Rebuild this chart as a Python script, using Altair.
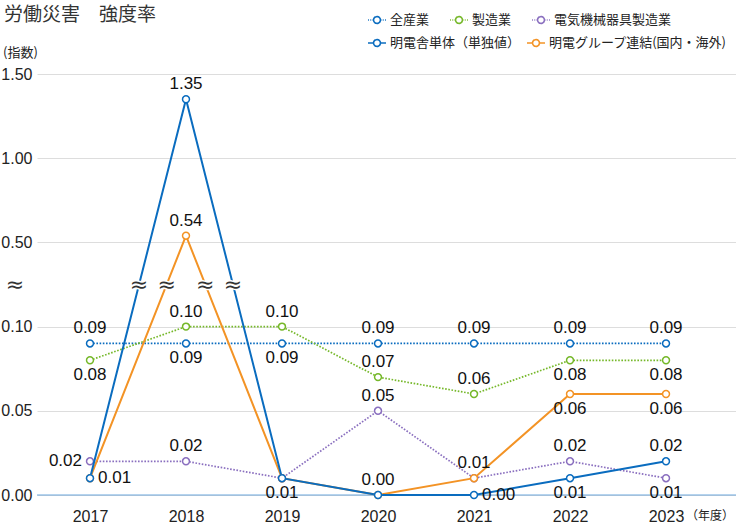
import altair as alt
import pandas as pd

# ---------------- data ----------------
years = [2017, 2018, 2019, 2020, 2021, 2022, 2023]
all_industry = [0.09, 0.09, 0.09, 0.09, 0.09, 0.09, 0.09]
manufacturing = [0.08, 0.10, 0.10, 0.07, 0.06, 0.08, 0.08]
electrical = [0.02, 0.02, 0.01, 0.05, 0.01, 0.02, 0.01]
meidensha = [0.01, 1.35, 0.01, 0.00, 0.00, 0.01, 0.02]
group = [0.01, 0.54, 0.01, 0.00, 0.01, 0.06, 0.06]

names_dotted = ["全産業", "製造業", "電気機械器具製造業"]
names_solid = ["明電舎単体（単独値）", "明電グループ連結(国内・海外)"]
colors_dotted = ["#0a6cbf", "#76b82a", "#8a6fbf"]
colors_solid = ["#0a6cbf", "#f39325"]

tick_values = [0.00, 0.05, 0.10, 0.50, 1.00, 1.50]
tick_labels = ["0.00", "0.05", "0.10", "0.50", "1.00", "1.50"]

# where each value label sits relative to its point
place_all = ["above", "below", "below", "above", "above", "above", "above"]
place_manu = ["below", "above", "above", "above", "above", "below", "below"]
place_elec = ["left", "above", "none", "above", "none", "above", "below"]
place_meiden = ["right", "above", "below", "none", "right", "below", "above"]
place_group = ["none", "above", "none", "above", "above", "below", "below"]

title_text = "労働災害　強度率"
y_unit = "(指数)"
x_unit = "（年度）"

# ---------------- broken axis mapping ----------------
LOW_STEP = 0.05   # lower segment: 0.00-0.10
HIGH_START = 0.50 # upper segment: 0.50-1.50
HIGH_STEP = 0.50
BREAK = 2.5


def pos(v):
    return v / LOW_STEP if v <= 0.10 else 3 + (v - HIGH_START) / HIGH_STEP


pos_expr = "datum.v <= 0.1 ? datum.v / 0.05 : 3 + (datum.v - 0.5) / 0.5"

series = [
    (names_dotted[0], all_industry, place_all, "dotted"),
    (names_dotted[1], manufacturing, place_manu, "dotted"),
    (names_dotted[2], electrical, place_elec, "dotted"),
    (names_solid[1], group, place_group, "solid"),
    (names_solid[0], meidensha, place_meiden, "solid"),
]

rows = []
breaks = []
for name, vals, places, kind in series:
    for yr, v, pl in zip(years, vals, places):
        rows.append({"series": name, "year": yr, "v": v, "place": pl,
                     "kind": kind, "label": f"{v:.2f}"})
    p = [pos(v) for v in vals]
    for i in range(len(years) - 1):
        if (p[i] - BREAK) * (p[i + 1] - BREAK) < 0:
            t = (BREAK - p[i]) / (p[i + 1] - p[i])
            breaks.append({"year": years[i] + t, "y": BREAK})
df = pd.DataFrame(rows)
df_break = pd.DataFrame(breaks)

tick_pos = [pos(v) for v in tick_values]
label_js = "[" + ",".join(f"'{s}'" for s in tick_labels) + "]"

NUM_FONT = "Liberation Sans"
JP_FONT = "Noto Sans CJK JP"

W, H = 699, 421
x_scale = alt.Scale(domain=[2016.448, 2023.729], nice=False, zero=False)
y_scale = alt.Scale(domain=[0, 5], nice=False, zero=False)

base = alt.Chart(df).transform_calculate(p=pos_expr)

X = alt.X("year:Q", scale=x_scale,
          axis=alt.Axis(values=years, format="d", grid=False, domain=False,
                        ticks=False, tickSize=0, labelPadding=13, title=None,
                        labelFont=NUM_FONT, labelFontSize=16, labelColor="#222",
                        labelFlush=False))
Y = alt.Y("p:Q", scale=y_scale,
          axis=alt.Axis(values=tick_pos, labelExpr=f"{label_js}[datum.value]",
                        grid=True, gridColor="#dddddd", gridWidth=1,
                        domain=False, ticks=False, tickSize=0, labelPadding=5,
                        title=None, labelFont=NUM_FONT, labelFontSize=16,
                        labelColor="#222"))

dot_path = ("M-1,0L-0.9,0M-0.74,0L-0.64,0M-0.5,0L-0.42,0"
            "M0.42,0L0.5,0M0.64,0L0.74,0M0.9,0L1,0"
            "M0.38,0A0.38,0.38 0 1 1 -0.38,0A0.38,0.38 0 1 1 0.38,0")
solid_path = ("M-1,0L-0.38,0M0.38,0L1,0"
              "M0.38,0A0.38,0.38 0 1 1 -0.38,0A0.38,0.38 0 1 1 0.38,0")


def make_legend(path, x, y, cols, colpad):
    return alt.Legend(orient="none", legendX=x, legendY=y, direction="horizontal",
                      columns=cols, title=None, symbolType=path, symbolSize=324,
                      symbolStrokeWidth=1.6, symbolFillColor="white",
                      symbolDash=[1, 0],
                      labelFont=JP_FONT, labelFontSize=13, labelColor="#222",
                      labelLimit=300, labelOffset=3, columnPadding=colpad, padding=0)


leg_dotted = make_legend(dot_path, 330, -64, 3, 16)
leg_solid = make_legend(solid_path, 330, -41, 2, 2)

color_dotted = alt.Color("series:N", scale=alt.Scale(domain=names_dotted, range=colors_dotted),
                         legend=leg_dotted)
color_solid = alt.Color("series:N", scale=alt.Scale(domain=names_solid, range=colors_solid),
                        legend=leg_solid)

dotted_base = base.transform_filter("datum.kind == 'dotted'")
dotted = alt.layer(
    dotted_base.mark_line(strokeWidth=1.7, strokeDash=[1.6, 1.6]).encode(
        x=X, y=Y, color=color_dotted, detail="series:N"),
    dotted_base.mark_point(filled=False, fill="white", size=48, strokeWidth=1.5, opacity=1).encode(
        x=X, y=Y, color=color_dotted),
)

solid_base = base.transform_filter("datum.kind == 'solid'")
solid = alt.layer(
    solid_base.transform_filter(f"datum.series == '{names_solid[1]}'").mark_line(strokeWidth=2, color=colors_solid[1]).encode(x=X, y=Y),
    solid_base.transform_filter(f"datum.series == '{names_solid[0]}'").mark_line(strokeWidth=2, color=colors_solid[0]).encode(x=X, y=Y),
    solid_base.mark_point(filled=False, fill="white", size=48, strokeWidth=1.5, opacity=1).encode(
        x=X, y=Y, color=color_solid),
)

zero_rule = alt.Chart(pd.DataFrame({"v": [0.0]})).mark_rule(color="#6aa6dc", strokeWidth=1).encode(
    y=alt.Y("v:Q", scale=y_scale), x=alt.value(0), x2=alt.value(W))


def labels(place, **kw):
    return base.transform_filter(f"datum.place == '{place}'").mark_text(
        font=NUM_FONT, fontSize=17, color="#111", **kw).encode(x=X, y=Y, text="label:N")


lab_above = labels("above", dy=-15, baseline="middle", align="center")
lab_below = labels("below", dy=15, baseline="middle", align="center")
lab_left = labels("left", dx=-8, baseline="middle", align="right")
lab_right = labels("right", dx=8, baseline="middle", align="left")

brk_halo = alt.Chart(df_break).mark_text(text="≈", font="DejaVu Sans", fontSize=22,
                                         stroke="white", strokeWidth=3, fill="white",
                                         baseline="middle").encode(
    x=alt.X("year:Q", scale=x_scale), y=alt.Y("y:Q", scale=y_scale))
brk = alt.Chart(df_break).mark_text(text="≈", font="DejaVu Sans", fontSize=22,
                                    color="#333", baseline="middle").encode(
    x=alt.X("year:Q", scale=x_scale), y=alt.Y("y:Q", scale=y_scale))
axis_brk = alt.Chart(pd.DataFrame({"y": [BREAK]})).mark_text(
    text="≈", font="DejaVu Sans", fontSize=22, color="#333", baseline="middle").encode(
    x=alt.value(-22), y=alt.Y("y:Q", scale=y_scale))

texts = alt.Chart(pd.DataFrame({"t": [title_text, y_unit, x_unit],
                                "k": ["title", "yunit", "xunit"]}))
title_mark = texts.transform_filter("datum.k == 'title'").mark_text(
    font=JP_FONT, fontSize=19, color="#333", align="left", baseline="middle").encode(
    text="t:N", x=alt.value(-33), y=alt.value(-59))
yunit_mark = texts.transform_filter("datum.k == 'yunit'").mark_text(
    font=JP_FONT, fontSize=13, color="#222", align="left", baseline="middle").encode(
    text="t:N", x=alt.value(-34), y=alt.value(-21))
xunit_mark = texts.transform_filter("datum.k == 'xunit'").mark_text(
    font=JP_FONT, fontSize=12, color="#222", align="center", baseline="middle").encode(
    text="t:N", x=alt.value(673), y=alt.value(442))

chart = alt.layer(
    zero_rule, dotted, solid, brk_halo, brk, axis_brk,
    lab_above, lab_below, lab_left, lab_right,
    title_mark, yunit_mark, xunit_mark,
).resolve_scale(color="independent").properties(
    width=W, height=H,
    padding={"left": 37, "top": 74, "right": 0, "bottom": 32},
    autosize=alt.AutoSizeParams(type="none"),
).configure_view(stroke=None)

chart.save("out.html", embed_options={"renderer": "svg", "actions": False})
